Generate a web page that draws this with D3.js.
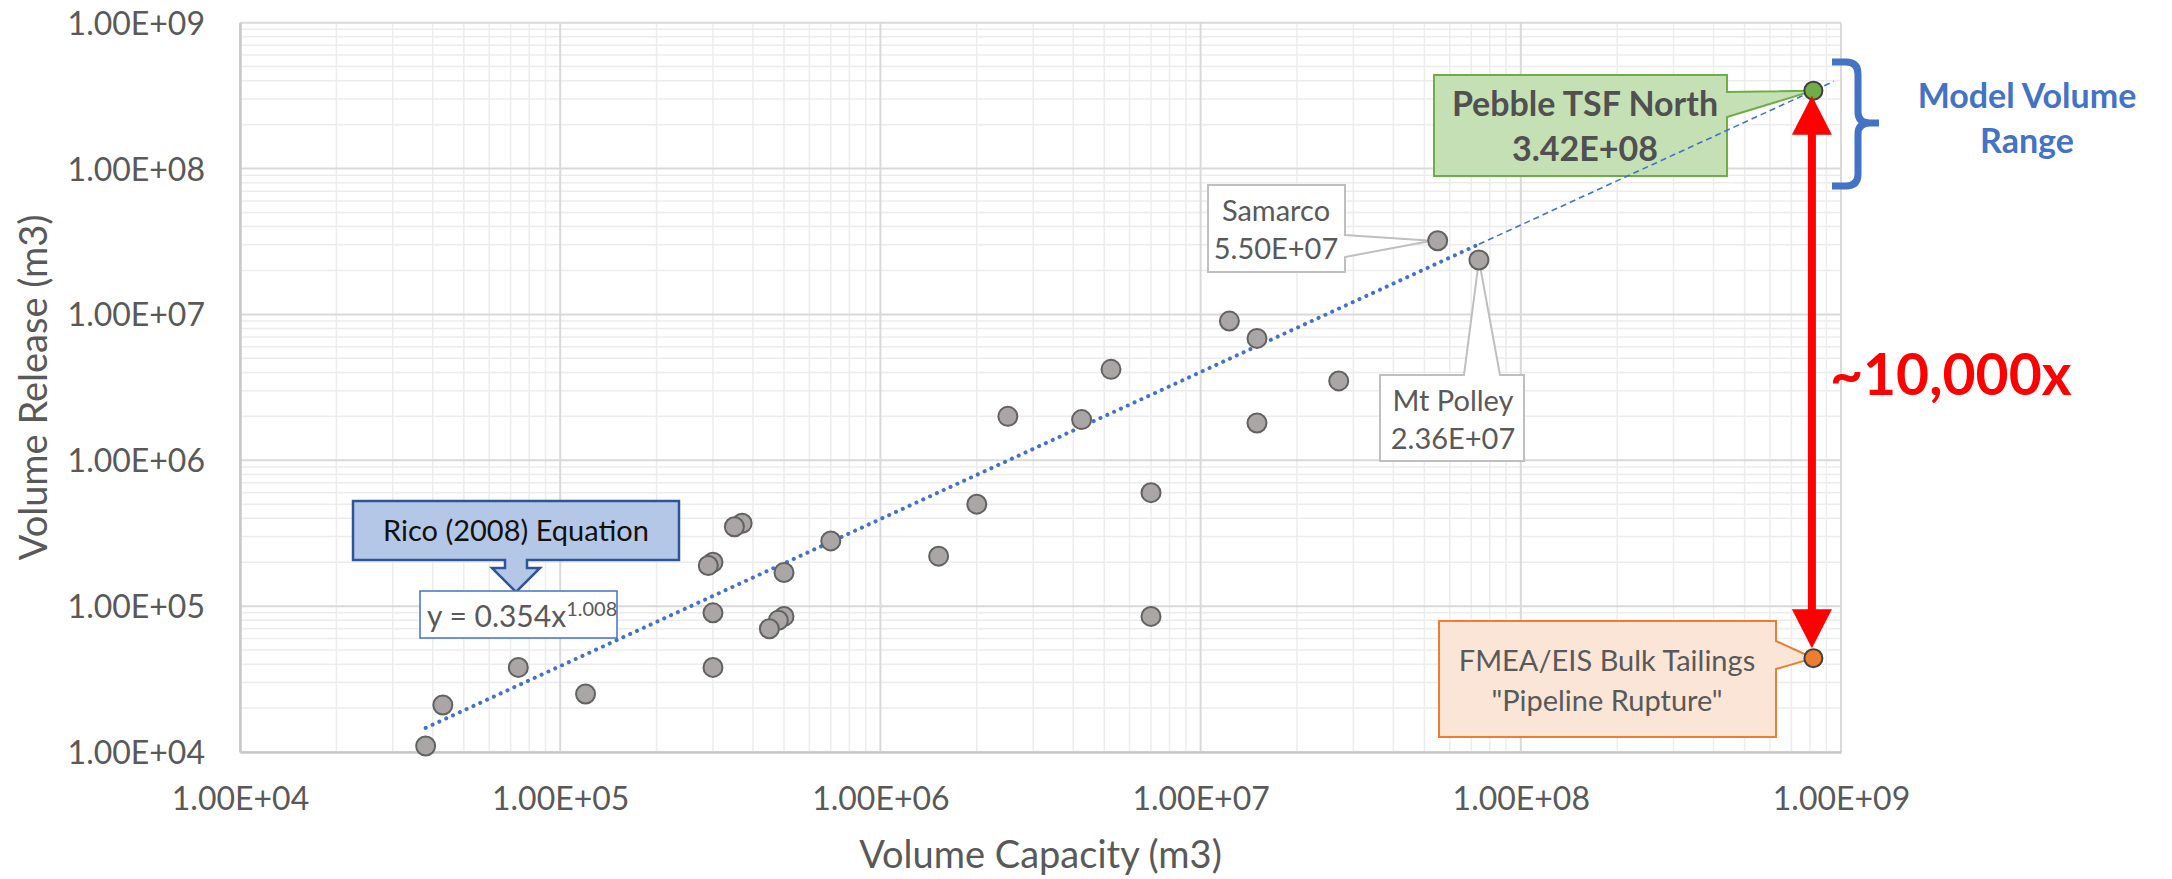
<!DOCTYPE html>
<html>
<head>
<meta charset="utf-8">
<script src="https://cdn.jsdelivr.net/npm/d3@7"></script>
<style>
  html, body { margin: 0; padding: 0; background: #fff; }
  svg { display: block; font-family: Lato, 'Open Sans', sans-serif; }
</style>
</head>
<body>
<div id="chart"></div>
<script>
// Tailings dam failures: storage capacity vs released volume (m3)
const capacity = [3.8e4, 4.3e4, 7.4e4, 1.2e5, 3.0e5, 3.0e5, 3.0e5, 2.9e5, 3.7e5, 3.5e5,
  5.0e5, 7.0e5, 5.0e5, 4.8e5, 4.5e5, 1.52e6, 2.0e6, 7.0e6, 7.0e6, 2.5e6,
  4.25e6, 5.25e6, 1.23e7, 1.5e7, 1.5e7, 2.7e7, 5.5e7, 7.4e7];
const release = [1.1e4, 2.1e4, 3.8e4, 2.5e4, 9.0e4, 3.8e4, 2.0e5, 1.9e5, 3.7e5, 3.5e5,
  1.7e5, 2.8e5, 8.5e4, 8.0e4, 7.0e4, 2.2e5, 5.0e5, 6.0e5, 8.5e4, 2.0e6,
  1.9e6, 4.2e6, 9.0e6, 6.85e6, 1.8e6, 3.5e6, 3.2e7, 2.36e7];

const samarco = { capacity: 5.5e7, release: 3.2e7, lines: ['Samarco', '5.50E+07'] };
const mtPolley = { capacity: 7.4e7, release: 2.36e7, lines: ['Mt Polley', '2.36E+07'] };
const pebble = { capacity: 8.2e8, release: 3.42e8, lines: ['Pebble TSF North', '3.42E+08'] };
const pipeline = { capacity: 8.2e8, release: 4.4e4, lines: ['FMEA/EIS Bulk Tailings', '"Pipeline Rupture"'] };

// Rico (2008) fit, y = a * x^b
const ricoA = 0.354;
const ricoB = 1.008;
const trendSpan = [3.8e4, 7.4e7];
const forecastEnd = 9.5e8;

const decades = [1e4, 1e5, 1e6, 1e7, 1e8, 1e9];

const W = 2172, H = 879;
const plot = { left: 240, right: 1841, top: 22.7, bottom: 752 };
const grey = '#595959';

const svg = d3.select('#chart').append('svg')
  .attr('width', W)
  .attr('height', H);

svg.append('rect').attr('width', W).attr('height', H).attr('fill', '#fff');

const x = d3.scaleLog().domain([1e4, 1e9]).range([plot.left, plot.right]);
const y = d3.scaleLog().domain([1e4, 1e9]).range([plot.bottom, plot.top]);

const sci = (d) => {
  const e = Math.floor(Math.log10(d) + 1e-9);
  return `${(d / 10 ** e).toFixed(2)}E+${String(e).padStart(2, '0')}`;
};
const isMajor = (d) => Math.abs(Math.log10(d) - Math.round(Math.log10(d))) < 1e-9;

// Grid: minor first, major on top
const grid = svg.append('g').attr('class', 'grid');
const minorX = x.ticks().filter((d) => !isMajor(d));
const minorY = y.ticks().filter((d) => !isMajor(d));

grid.selectAll('.vminor').data(minorX).join('line')
  .attr('x1', (d) => x(d)).attr('x2', (d) => x(d))
  .attr('y1', plot.top).attr('y2', plot.bottom)
  .attr('stroke', '#ececec').attr('stroke-width', 1.5);
grid.selectAll('.hminor').data(minorY).join('line')
  .attr('y1', (d) => y(d)).attr('y2', (d) => y(d))
  .attr('x1', plot.left).attr('x2', plot.right)
  .attr('stroke', '#ececec').attr('stroke-width', 1.5);
grid.selectAll('.vmajor').data(decades).join('line')
  .attr('x1', (d) => x(d)).attr('x2', (d) => x(d))
  .attr('y1', plot.top).attr('y2', plot.bottom)
  .attr('stroke', '#d9d9d9').attr('stroke-width', 2);
grid.selectAll('.hmajor').data(decades).join('line')
  .attr('y1', (d) => y(d)).attr('y2', (d) => y(d))
  .attr('x1', plot.left).attr('x2', plot.right)
  .attr('stroke', '#d9d9d9').attr('stroke-width', 2);

// Axes
const xAxis = svg.append('g')
  .attr('transform', `translate(0,${plot.bottom})`)
  .call(d3.axisBottom(x).tickValues(decades).tickFormat(sci).tickSize(0).tickPadding(35));
const yAxis = svg.append('g')
  .attr('transform', `translate(${plot.left},0)`)
  .call(d3.axisLeft(y).tickValues(decades).tickFormat(sci).tickSize(0).tickPadding(35));

[xAxis, yAxis].forEach((a) => {
  a.select('.domain').attr('stroke', '#c8c8c8').attr('stroke-width', 2.5);
  a.selectAll('text')
    .attr('fill', grey)
    .attr('font-size', 32)
    .attr('font-family', 'Lato, sans-serif');
});
xAxis.selectAll('text').attr('dy', '0.71em');
yAxis.selectAll('text').attr('dy', '0.36em');

svg.append('text')
  .attr('x', (plot.left + plot.right) / 2)
  .attr('y', 868)
  .attr('text-anchor', 'middle')
  .attr('fill', grey)
  .attr('font-size', 38)
  .text('Volume Capacity (m3)');

svg.append('text')
  .attr('transform', `translate(47,${(plot.top + plot.bottom) / 2}) rotate(-90)`)
  .attr('text-anchor', 'middle')
  .attr('fill', grey)
  .attr('font-size', 38)
  .text('Volume Release (m3)');

// Callout helpers
function boxLines(g, lines, cx, baselines, opts) {
  lines.forEach((t, i) => {
    g.append('text')
      .attr('x', cx)
      .attr('y', baselines[i])
      .attr('text-anchor', 'middle')
      .attr('fill', opts.color)
      .attr('font-size', opts.size)
      .attr('font-weight', opts.weight || 'normal')
      .text(t);
  });
}

const notes = svg.append('g').attr('class', 'callouts');

// Samarco: wedge out of right edge
{
  const tx = x(samarco.capacity) - 6, ty = y(samarco.release);
  const b = { x0: 1208, x1: 1345, y0: 185, y1: 272 };
  notes.append('path')
    .attr('d', `M${b.x0},${b.y0}H${b.x1}V235L${tx},${ty}L${b.x1},257V${b.y1}H${b.x0}Z`)
    .attr('fill', '#fff').attr('stroke', '#bfbfbf').attr('stroke-width', 2);
  boxLines(notes, samarco.lines, 1276, [221, 259], { color: grey, size: 29 });
}

// Mt Polley: wedge out of top edge
{
  const tx = x(mtPolley.capacity), ty = y(mtPolley.release);
  const b = { x0: 1380, x1: 1524, y0: 375, y1: 461 };
  notes.append('path')
    .attr('d', `M${b.x0},${b.y0}H1464L${tx},${ty}L1500,${b.y0}H${b.x1}V${b.y1}H${b.x0}Z`)
    .attr('fill', '#fff').attr('stroke', '#bfbfbf').attr('stroke-width', 2);
  boxLines(notes, mtPolley.lines, 1453, [411, 449], { color: grey, size: 29 });
}

// Pebble TSF North
{
  const tx = x(pebble.capacity), ty = y(pebble.release);
  const b = { x0: 1434, x1: 1727, y0: 75, y1: 176 };
  notes.append('path')
    .attr('d', `M${b.x0},${b.y0}H${b.x1}V92L${tx},${ty}L${b.x1},117V${b.y1}H${b.x0}Z`)
    .attr('fill', '#c5e0b4').attr('stroke', '#70ad47').attr('stroke-width', 2);
  boxLines(notes, pebble.lines, 1585, [116, 161], { color: '#505050', size: 34, weight: 'bold' });
}

// FMEA pipeline rupture
{
  const tx = x(pipeline.capacity), ty = y(pipeline.release);
  const b = { x0: 1439, x1: 1776, y0: 621, y1: 737 };
  notes.append('path')
    .attr('d', `M${b.x0},${b.y0}H${b.x1}V641L${tx},${ty}L${b.x1},669V${b.y1}H${b.x0}Z`)
    .attr('fill', '#fbe5d6').attr('stroke', '#ed7d31').attr('stroke-width', 2);
  boxLines(notes, pipeline.lines, 1607, [671, 711], { color: grey, size: 29 });
}

// Rico (2008) down-arrow callout + equation box
notes.append('path')
  .attr('d', 'M353,501H679V560H527V568H540L516,592L492,568H505V560H353Z')
  .attr('fill', '#b4c7e7').attr('stroke', '#2f5597').attr('stroke-width', 2.5);
notes.append('text')
  .attr('x', 516).attr('y', 541)
  .attr('text-anchor', 'middle')
  .attr('fill', '#111')
  .attr('font-size', 29)
  .text('Rico (2008) Equation');

notes.append('rect')
  .attr('x', 420).attr('y', 591).attr('width', 197).attr('height', 47)
  .attr('fill', '#fff').attr('stroke', '#4472c4').attr('stroke-width', 1.5);
const eq = notes.append('text')
  .attr('x', 427).attr('y', 627)
  .attr('fill', grey)
  .attr('font-size', 30);
eq.append('tspan').text(`y = ${ricoA}x`);
eq.append('tspan').attr('dy', -11).attr('font-size', 20).text(ricoB.toFixed(3));

// Trendline (dotted) and its forward projection (dashed)
const fit = (v) => ricoA * Math.pow(v, ricoB);
const line = d3.line().x((d) => x(d)).y((d) => y(fit(d)));

svg.append('path')
  .datum([trendSpan[1], forecastEnd])
  .attr('d', line)
  .attr('fill', 'none')
  .attr('stroke', '#4472c4')
  .attr('stroke-width', 1.6)
  .attr('stroke-dasharray', '6 4');

svg.append('path')
  .datum(trendSpan)
  .attr('d', line)
  .attr('fill', 'none')
  .attr('stroke', '#4472c4')
  .attr('stroke-width', 4)
  .attr('stroke-linecap', 'round')
  .attr('stroke-dasharray', '0.1 7.4');

// Data points
svg.append('g')
  .selectAll('circle')
  .data(d3.range(capacity.length))
  .join('circle')
  .attr('cx', (i) => x(capacity[i]))
  .attr('cy', (i) => y(release[i]))
  .attr('r', 9.5)
  .attr('fill', '#aaa6a6')
  .attr('stroke', '#626262')
  .attr('stroke-width', 2);

[[pebble, '#70ad47'], [pipeline, '#ed7d31']].forEach(([p, c]) => {
  svg.append('circle')
    .attr('cx', x(p.capacity))
    .attr('cy', y(p.release))
    .attr('r', 9)
    .attr('fill', c)
    .attr('stroke', '#404040')
    .attr('stroke-width', 2);
});

// ~10,000x double arrow between the two Pebble estimates
{
  const ax = x(pebble.capacity) - 1.5;
  const top = y(pebble.release) + 5;
  const bot = y(pipeline.release) - 10;
  const head = 39, half = 20;
  const arrow = svg.append('g').attr('fill', '#ff0000');
  arrow.append('rect')
    .attr('x', ax - 4).attr('y', top + head - 2)
    .attr('width', 8).attr('height', bot - top - 2 * head + 4);
  arrow.append('path').attr('d', `M${ax},${top}L${ax + half},${top + head}H${ax - half}Z`);
  arrow.append('path').attr('d', `M${ax},${bot}L${ax + half},${bot - head}H${ax - half}Z`);
}

svg.append('text')
  .attr('x', 1830).attr('y', 395)
  .attr('fill', '#ff0000')
  .attr('font-size', 57)
  .attr('font-weight', 'bold')
  .text('~10,000x');

// Model volume range bracket
svg.append('path')
  .attr('d', 'M1832,62H1846Q1858,62 1858,74V112Q1858,123 1870,123H1879M1879,123H1870Q1858,123 1858,134V174Q1858,186 1846,186H1832')
  .attr('fill', 'none')
  .attr('stroke', '#4472c4')
  .attr('stroke-width', 7);

const rangeLabel = svg.append('text')
  .attr('text-anchor', 'middle')
  .attr('fill', '#4472c4')
  .attr('font-size', 34)
  .attr('font-weight', 'bold');
rangeLabel.append('tspan').attr('x', 2027).attr('y', 108).text('Model Volume');
rangeLabel.append('tspan').attr('x', 2027).attr('y', 153).text('Range');
</script>
</body>
</html>
